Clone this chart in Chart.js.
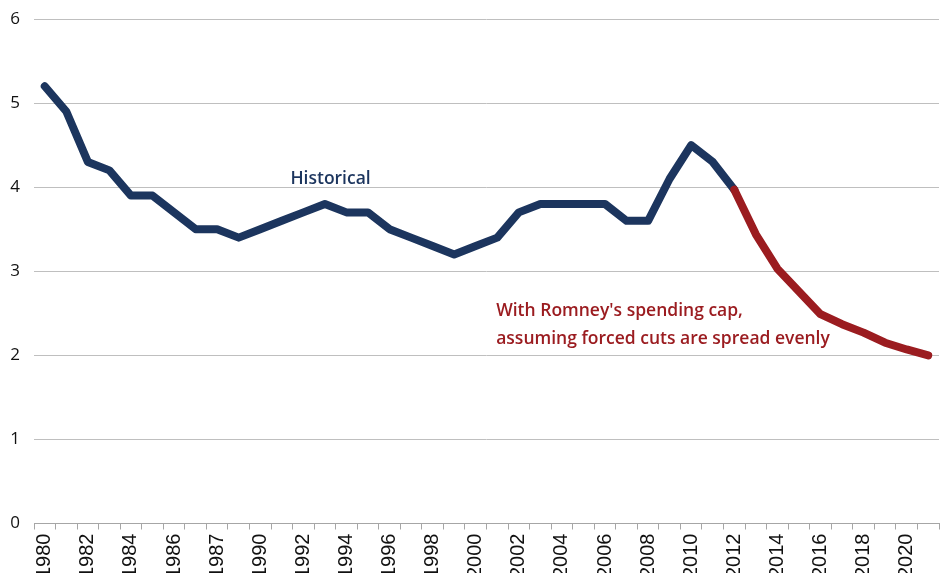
<!DOCTYPE html>
<html lang="en">
<head>
  <meta charset="UTF-8" />
  <title>Spending as share of GDP</title>
  <script src="https://cdn.jsdelivr.net/npm/chart.js"></script>
  <style>
    html, body {
      margin: 0;
      padding: 0;
      background: #ffffff;
      overflow: hidden;
    }
    .wrap {
      position: relative;
      width: 947px;
      height: 582px;
    }
  </style>
</head>
<body>
  <div class="wrap">
    <canvas id="chart"></canvas>
  </div>

  <script>
    const years = [1980, 1981, 1982, 1983, 1984, 1985, 1986, 1987, 1988, 1989,
                   1990, 1991, 1992, 1993, 1994, 1995, 1996, 1997, 1998, 1999,
                   2000, 2001, 2002, 2003, 2004, 2005, 2006, 2007, 2008, 2009,
                   2010, 2011, 2012, 2013, 2014, 2015, 2016, 2017, 2018, 2019,
                   2020, 2021];

    // every other year is labelled; the source prints "1987" where 1988 should be
    const tickLabels = ['1980', '1982', '1984', '1986', '1987', '1990', '1992', '1994',
                        '1996', '1998', '2000', '2002', '2004', '2006', '2008', '2010',
                        '2012', '2014', '2016', '2018', '2020'];

    const historical = [5.2, 4.9, 4.3, 4.2, 3.9, 3.9, 3.7, 3.5, 3.5, 3.4,
                        3.5, 3.6, 3.7, 3.8, 3.7, 3.7, 3.5, 3.4, 3.3, 3.2,
                        3.3, 3.4, 3.7, 3.8, 3.8, 3.8, 3.8, 3.6, 3.6, 4.1,
                        4.5, 4.3, 3.97, null, null, null, null, null, null, null,
                        null, null];

    const romneyCap = [null, null, null, null, null, null, null, null, null, null,
                       null, null, null, null, null, null, null, null, null, null,
                       null, null, null, null, null, null, null, null, null, null,
                       null, null, 3.97, 3.44, 3.03, 2.76, 2.49, 2.37, 2.27, 2.15,
                       2.07, 2.0];

    const navy = '#1c355e';
    const red = '#9b1c20';

    // text labels placed through the scales
    const notes = {
      id: 'notes',
      afterDatasetsDraw(chart) {
        const { ctx, scales: { x, y } } = chart;
        ctx.save();
        ctx.textBaseline = 'middle';
        ctx.textAlign = 'left';
        ctx.font = '600 17.5px "Open Sans"';
        ctx.fillStyle = navy;
        ctx.fillText('Historical', x.getPixelForValue(11.4), y.getPixelForValue(4.1));
        ctx.fillStyle = red;
        ctx.fillText("With Romney's spending cap,", x.getPixelForValue(20.95), y.getPixelForValue(2.53));
        ctx.fillText('assuming forced cuts are spread evenly', x.getPixelForValue(20.95), y.getPixelForValue(2.2));
        ctx.restore();
      }
    };

    const ctx = document.getElementById('chart').getContext('2d');
    new Chart(ctx, {
      type: 'line',
      data: {
        labels: years,
        datasets: [
          {
            label: 'With Romney cap',
            data: romneyCap,
            borderColor: red,
            borderWidth: 8,
            borderJoinStyle: 'round',
            borderCapStyle: 'round',
            pointRadius: 0,
            fill: false,
            tension: 0
          },
          {
            label: 'Historical',
            data: historical,
            borderColor: navy,
            borderWidth: 8,
            borderJoinStyle: 'round',
            borderCapStyle: 'round',
            pointRadius: 0,
            fill: false,
            tension: 0
          }
        ]
      },
      options: {
        responsive: true,
        maintainAspectRatio: false,
        animation: false,
        layout: {
          padding: { top: 19, right: 8, left: 0, bottom: 0 }
        },
        plugins: {
          legend: { display: false },
          tooltip: { enabled: false }
        },
        scales: {
          x: {
            offset: true,
            grid: {
              offset: true,
              drawOnChartArea: false,
              color: '#a6a6a6',
              tickLength: 6
            },
            border: { color: '#a6a6a6', width: 1 },
            ticks: {
              autoSkip: false,
              maxRotation: 90,
              minRotation: 90,
              padding: 4,
              color: '#111111',
              font: { family: '"Liberation Sans", Arial', size: 20 },
              callback: (val, i) => (i % 2 === 0 ? tickLabels[i / 2] : '')
            },
            afterFit(scale) {
              scale.paddingLeft = 0;
              scale.paddingRight = 0;
            }
          },
          y: {
            min: 0,
            max: 6,
            ticks: {
              stepSize: 1,
              padding: 14,
              color: '#111111',
              font: { family: '"Open Sans"', size: 17 }
            },
            grid: {
              color: '#bfbfbf',
              lineWidth: 1,
              drawTicks: false
            },
            border: { display: false },
            afterFit(scale) {
              scale.width = 34;
              scale.paddingTop = 0;
              scale.paddingBottom = 0;
            }
          }
        }
      },
      plugins: [notes]
    });
  </script>
</body>
</html>
